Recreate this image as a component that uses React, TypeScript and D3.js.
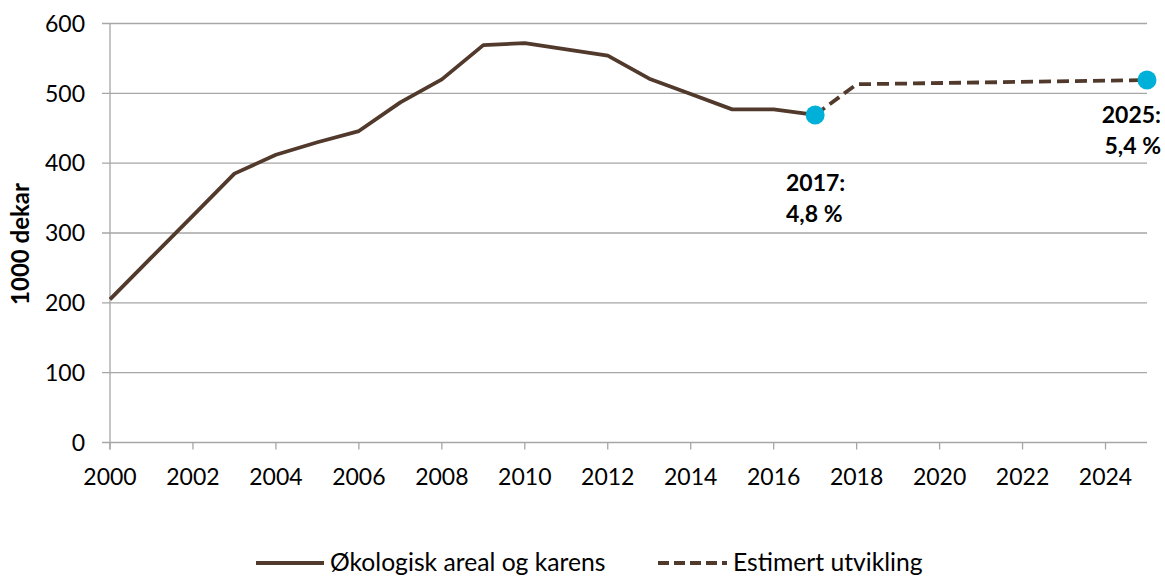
import React from "react";
import * as d3 from "d3";

// Observed areal (1000 dekar) per year
const years = [2000, 2001, 2002, 2003, 2004, 2005, 2006, 2007, 2008, 2009, 2010, 2011, 2012, 2013, 2014, 2015, 2016, 2017];
const areal = [205, 265, 325, 385, 412, 430, 446, 487, 520, 569, 572, 563, 554, 521, 499, 477, 477, 469];

// Estimated development
const estYears = [2017, 2018, 2025];
const estValues = [469, 513, 519];

const yTicks = [0, 100, 200, 300, 400, 500, 600];
const xTicks = [2000, 2002, 2004, 2006, 2008, 2010, 2012, 2014, 2016, 2018, 2020, 2022, 2024];

const markers = [
  { year: 2017, value: 469, label: ["2017:", "4,8 %"] },
  { year: 2025, value: 519, label: ["2025:", "5,4 %"] },
];

const BROWN = "#513A2C";
const CYAN = "#00B0D8";
const GRID = "#A6A6A6";
const FONT = "Lato, 'Open Sans', sans-serif";

export default function App() {
  const x = d3.scaleLinear().domain([2000, 2025]).range([110, 1147]);
  const y = d3.scaleLinear().domain([0, 600]).range([442.5, 23.5]);

  const line = d3
    .line<number>()
    .x((_, i) => x(years[i]))
    .y((d) => y(d));
  const estLine = d3
    .line<number>()
    .x((_, i) => x(estYears[i]))
    .y((d) => y(d));

  return (
    <svg
      width={1165}
      height={576}
      style={{ position: "absolute", left: 0, top: 0, background: "#fff" }}
      fontFamily={FONT}
    >
      {/* gridlines + y ticks */}
      {yTicks.map((t) => (
        <g key={t}>
          <line x1={102} x2={x(2025)} y1={y(t)} y2={y(t)} stroke={GRID} strokeWidth={1.3} />
          <text x={85} y={y(t)} dy="0.36em" textAnchor="end" fontSize={23} fill="#000">
            {t}
          </text>
        </g>
      ))}
      {/* y axis line */}
      <line x1={x(2000)} x2={x(2000)} y1={y(600)} y2={y(0) + 7} stroke={GRID} strokeWidth={1.3} />
      {/* x ticks */}
      {xTicks.map((t) => (
        <g key={t}>
          <line x1={x(t)} x2={x(t)} y1={y(0)} y2={y(0) + 7} stroke={GRID} strokeWidth={1.3} />
          <text x={x(t)} y={485} textAnchor="middle" fontSize={23} fill="#000">
            {t}
          </text>
        </g>
      ))}
      <text
        transform={`translate(29,${244}) rotate(-90)`}
        textAnchor="middle"
        fontSize={24}
        fontWeight="bold"
        fill="#000"
      >
        1000 dekar
      </text>

      {/* series */}
      <path d={line(areal) ?? ""} fill="none" stroke={BROWN} strokeWidth={3.8} strokeLinejoin="round" />
      <path d={estLine(estValues) ?? ""} fill="none" stroke={BROWN} strokeWidth={3.8} strokeDasharray="12,6" />

      {markers.map((m) => (
        <circle key={m.year} cx={x(m.year)} cy={y(m.value)} r={9.5} fill={CYAN} />
      ))}

      {/* annotations */}
      <text x={786} y={191} fontSize={23} fontWeight="bold" fill="#000">
        {markers[0].label[0]}
      </text>
      <text x={786} y={222} fontSize={23} fontWeight="bold" fill="#000">
        {markers[0].label[1]}
      </text>
      <text x={1161} y={123} textAnchor="end" fontSize={23} fontWeight="bold" fill="#000">
        {markers[1].label[0]}
      </text>
      <text x={1161} y={154} textAnchor="end" fontSize={23} fontWeight="bold" fill="#000">
        {markers[1].label[1]}
      </text>

      {/* legend */}
      <line x1={256} x2={324} y1={563} y2={563} stroke={BROWN} strokeWidth={4} />
      <text x={330} y={571} fontSize={24.7} fill="#000">
        Økologisk areal og karens
      </text>
      <line x1={658} x2={727} y1={563} y2={563} stroke={BROWN} strokeWidth={4} strokeDasharray="11,5" />
      <text x={733} y={571} fontSize={24.7} fill="#000">
        Estimert utvikling
      </text>
    </svg>
  );
}
